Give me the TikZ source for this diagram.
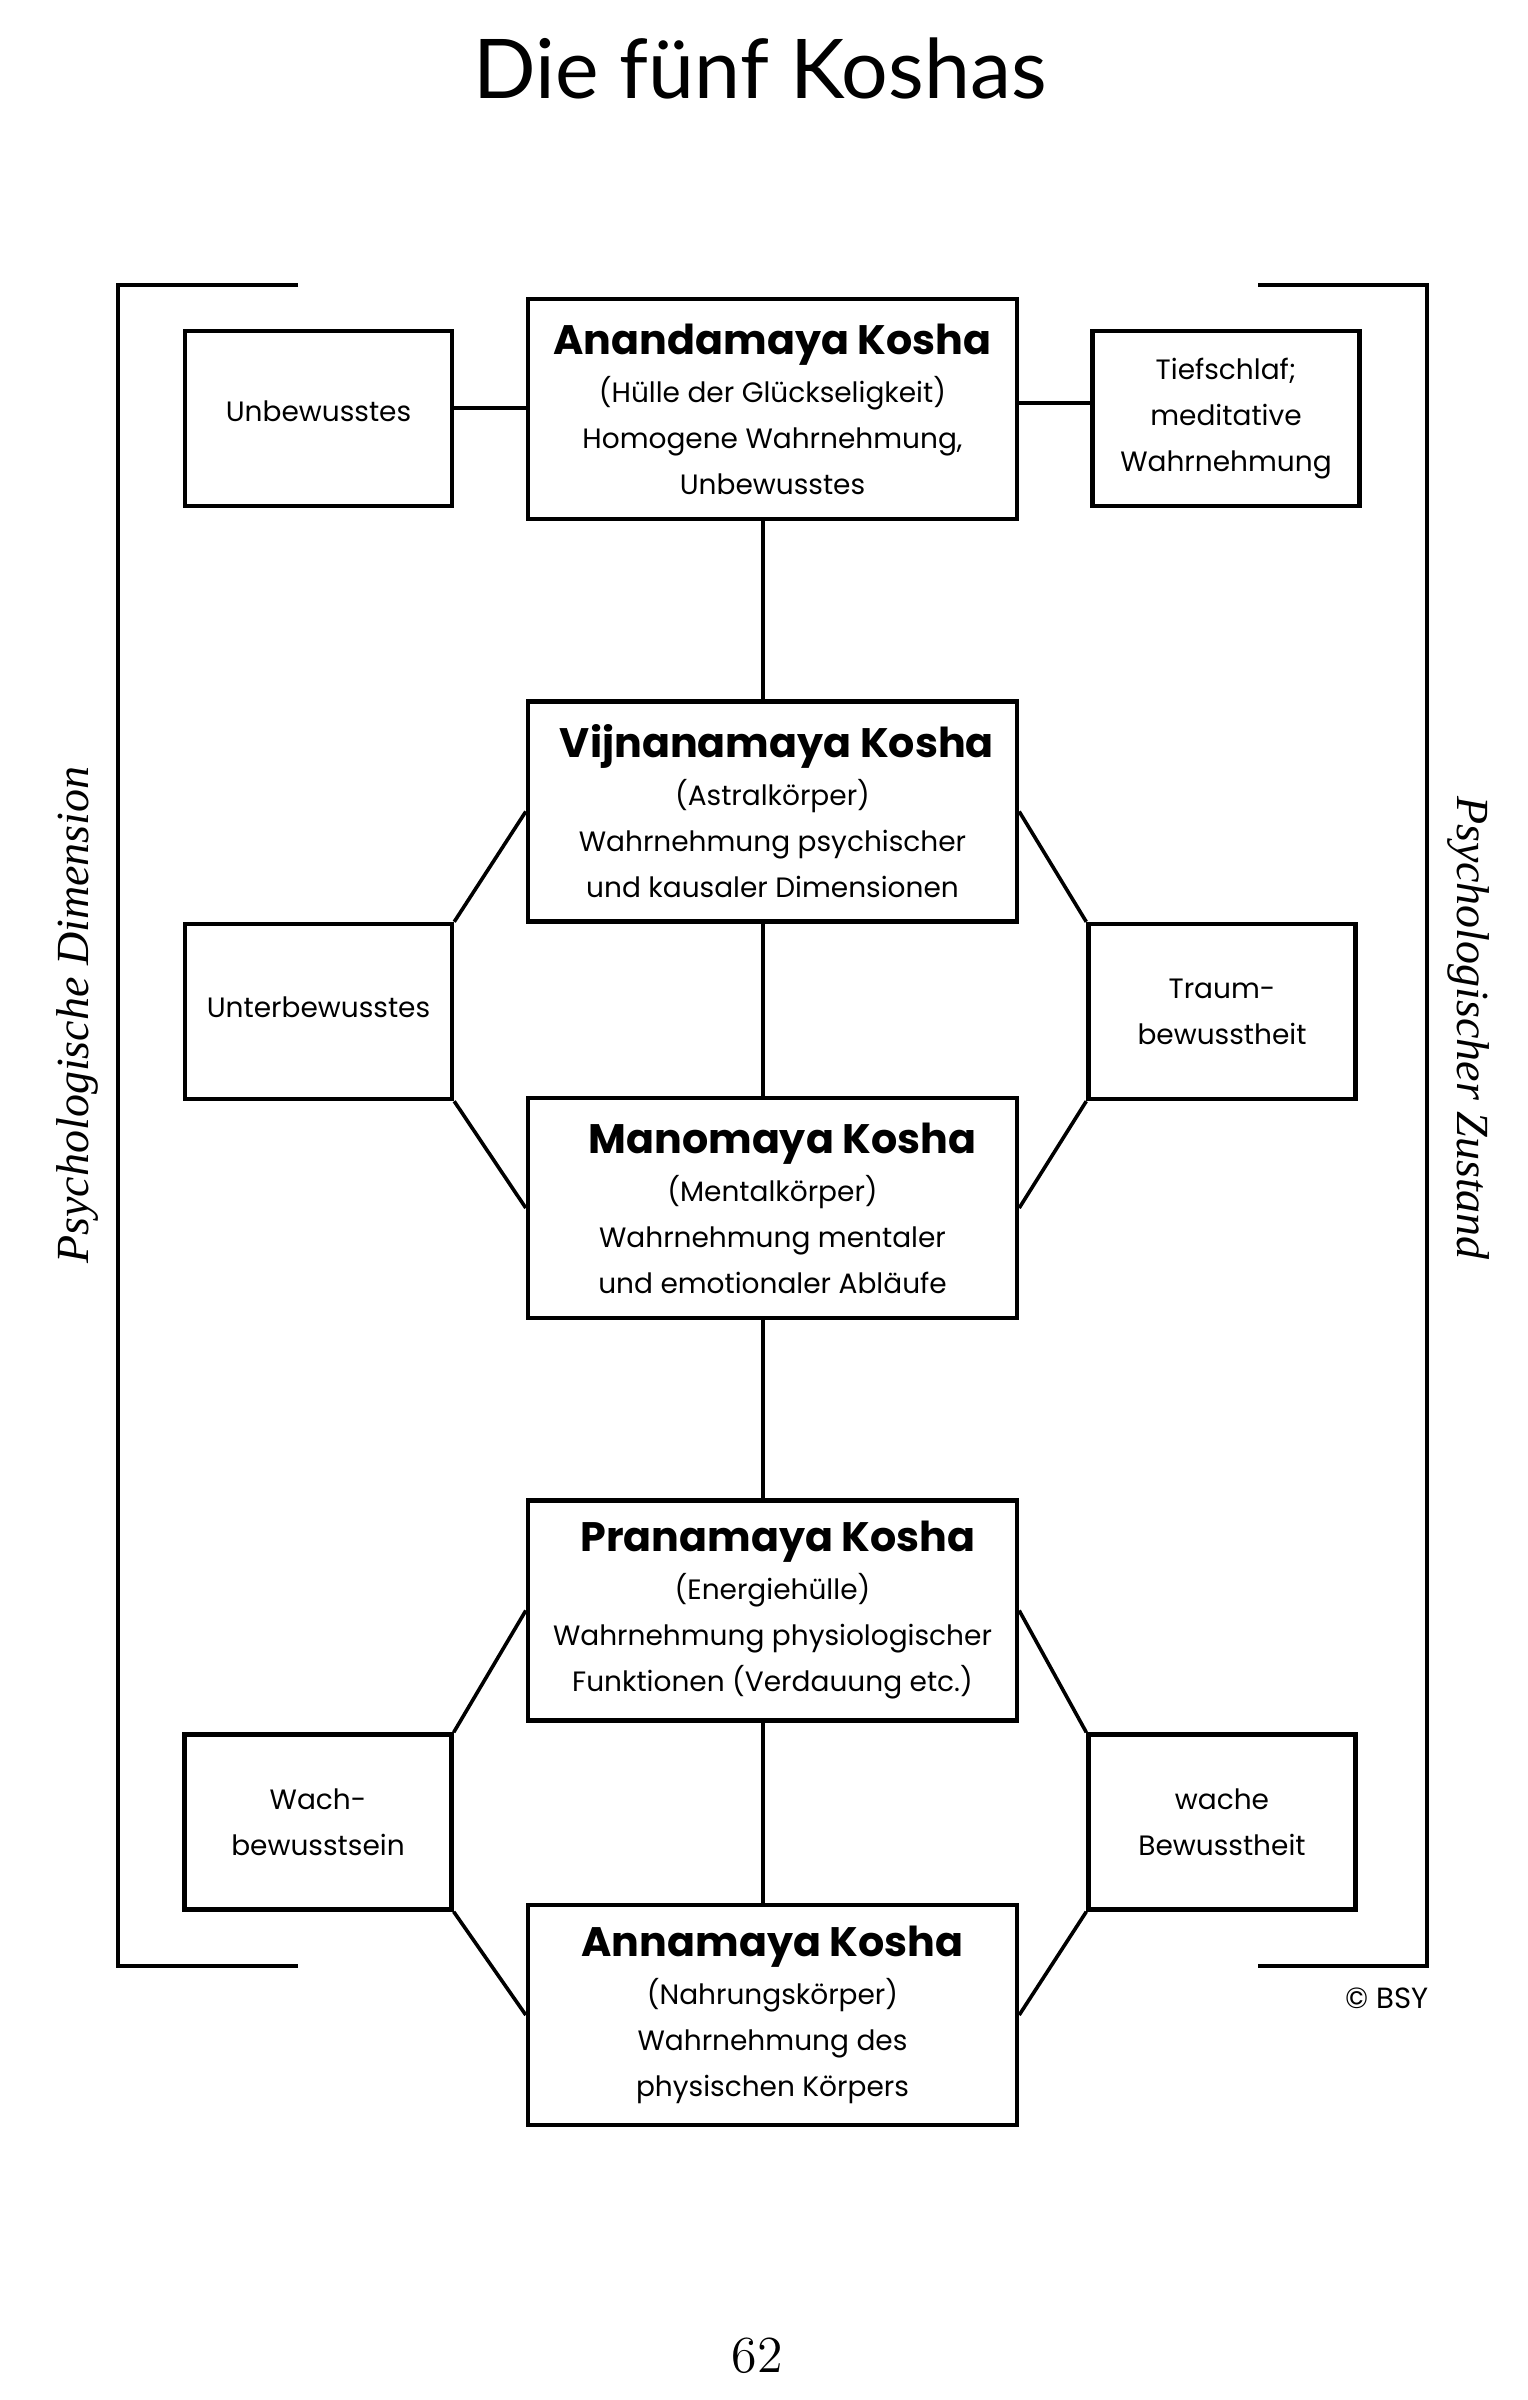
\documentclass[tikz,border=0pt]{standalone}
\usepackage{fontspec}
\newfontfamily\boxfont{Poppins}
\newfontfamily\titlefont{Lato}
\newfontfamily\labelfont{Liberation Serif}
\begin{document}
\begin{tikzpicture}[x=0.25pt,y=-0.25pt,
  txt/.style={font=\boxfont\fontsize{7.0}{11.5}\selectfont},
  kosha/.style={txt,draw,line width=1.1pt,minimum width=122.25pt,minimum height=55pt,inner sep=0pt,align=center},
  state/.style={txt,draw,line width=1.1pt,minimum width=66.75pt,minimum height=43.75pt,inner sep=0pt,align=center},
  link/.style={line width=0.9pt},
  bracket/.style={line width=1.2pt},
  side/.style={font=\labelfont\itshape\fontsize{11.5}{14}\selectfont,anchor=base,inner sep=0pt}]
\useasboundingbox (0,0) rectangle (1528,2400);

% title and page number
\node[font=\titlefont\fontsize{20.6}{24}\selectfont,anchor=base,inner sep=0pt] (title) at (760,98) {Die fünf Koshas};
\node[font=\fontsize{13}{15}\selectfont,anchor=base,inner sep=0pt] (page) at (757,2372) {62};
\node[font=\boxfont\fontsize{7.3}{9}\selectfont,anchor=base east,inner sep=0pt] (copy) at (1429,2008) {© BSY};

% kosha boxes
\node[kosha] (ana) at (772.5,409) {{\fontsize{10.3}{11.5}\selectfont\bfseries Anandamaya Kosha}\\[0.5pt](Hülle der Glückseligkeit)\\Homogene Wahrnehmung,\\Unbewusstes};
\node[kosha] (vij) at (772.5,811.5) {{\fontsize{10.3}{11.5}\selectfont\bfseries\hspace*{2.2pt}Vijnanamaya Kosha}\\[0.5pt](Astralkörper)\\Wahrnehmung psychischer\\und kausaler Dimensionen};
\node[kosha] (mano) at (772.5,1208) {{\fontsize{10.3}{11.5}\selectfont\bfseries\hspace*{5pt}Manomaya Kosha}\\[0.5pt](Mentalkörper)\\Wahrnehmung mentaler\\und emotionaler Abläufe};
\node[kosha] (prana) at (772.5,1610.5) {{\fontsize{10.3}{11.5}\selectfont\bfseries\hspace*{2.8pt}Pranamaya Kosha}\\[0.5pt](Energiehülle)\\Wahrnehmung physiologischer\\Funktionen (Verdauung etc.)};
\node[kosha] (anna) at (772.5,2015) {{\fontsize{10.3}{11.5}\selectfont\bfseries Annamaya Kosha}\\[0.5pt](Nahrungskörper)\\Wahrnehmung des\\physischen Körpers};

% state boxes
\node[state] (unb) at (318.5,418.5) {\raisebox{3.8pt}{Unbewusstes}};
\node[state] (tief) at (1226,418.5) {Tiefschlaf;\\meditative\\Wahrnehmung};
\node[state] (unt) at (318.5,1011.5) {\raisebox{2pt}{Unterbewusstes}};
\node[state] (traum) at (1222,1011.5) {Traum-\\bewusstheit};
\node[state] (wach) at (318,1822) {Wach-\\bewusstsein};
\node[state] (wache) at (1222,1822) {wache\\Bewusstheit};

% connectors
\draw[link] ([yshift=0.25pt]ana.west) -- ([yshift=0.25pt]ana.west -| unb.east);
\draw[link] ([yshift=1.5pt]ana.east) -- ([yshift=1.5pt]ana.east -| tief.west);
\draw[link] ([xshift=-2.4pt]ana.south) -- ([xshift=-2.4pt]vij.north);
\draw[link] ([xshift=-2.4pt]vij.south) -- ([xshift=-2.4pt]mano.north);
\draw[link] ([xshift=-2.4pt]mano.south) -- ([xshift=-2.4pt]prana.north);
\draw[link] ([xshift=-2.4pt]prana.south) -- ([xshift=-2.4pt]anna.north);
\draw[link] (vij.west) -- (unt.north east);
\draw[link] (unt.south east) -- (mano.west);
\draw[link] (vij.east) -- (traum.north west);
\draw[link] (traum.south west) -- (mano.east);
\draw[link] (prana.west) -- (wach.north east);
\draw[link] (wach.south east) -- (anna.west);
\draw[link] (prana.east) -- (wache.north west);
\draw[link] (wache.south west) -- (anna.east);

% brackets
\draw[bracket] (298,285) -- (118,285) -- (118,1966) -- (298,1966);
\draw[bracket] (1258,285) -- (1427,285) -- (1427,1966) -- (1258,1966);

% side labels
\node[side,rotate=90] (dimlabel) at (88,1015) {Psychologische Dimension};
\node[side,rotate=-90] (zustlabel) at (1457,1028) {Psychologischer Zustand};
\end{tikzpicture}
\end{document}
